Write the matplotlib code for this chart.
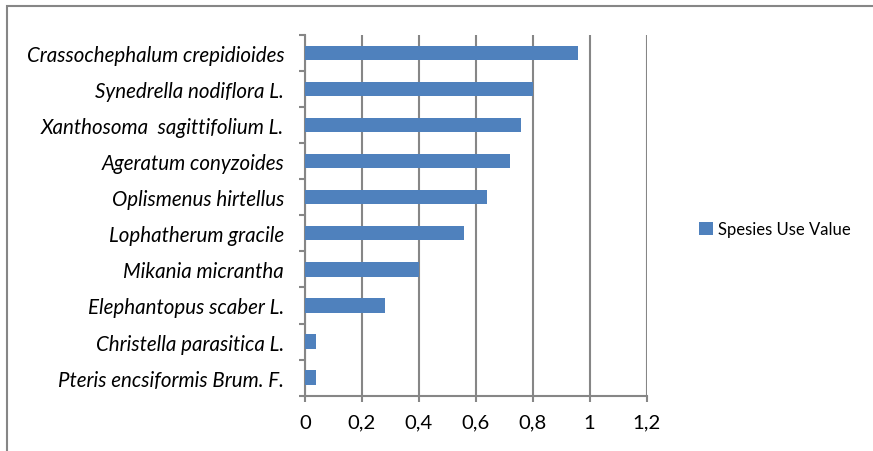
import numpy as np
import matplotlib.pyplot as plt
from matplotlib.patches import Rectangle
from matplotlib.ticker import FixedLocator, FuncFormatter

species = [
    "Pteris encsiformis Brum. F.",
    "Christella parasitica L.",
    "Elephantopus scaber L.",
    "Mikania micrantha",
    "Lophatherum gracile",
    "Oplismenus hirtellus",
    "Ageratum conyzoides",
    "Xanthosoma  sagittifolium L.",
    "Synedrella nodiflora L.",
    "Crassochephalum crepidioides",
]
use_value = [0.04, 0.04, 0.28, 0.40, 0.56, 0.64, 0.72, 0.76, 0.80, 0.96]
x_ticks = [0, 0.2, 0.4, 0.6, 0.8, 1.0, 1.2]

bar_color = "#4F81BD"
line_color = "#868686"

plt.rcParams["font.family"] = ["Lato", "DejaVu Sans"]

fig = plt.figure(figsize=(8.73, 4.52), dpi=100)
ax = fig.add_axes([0.3494, 0.1223, 0.3912, 0.7987])

y = np.arange(len(species))
ax.barh(y, use_value, height=0.4, color=bar_color, label="Spesies Use Value", zorder=3)

ax.set_xlim(0, 1.2)
ax.set_ylim(-0.5, len(species) - 0.5)
ax.set_xticks(x_ticks)
ax.xaxis.set_major_formatter(FuncFormatter(lambda v, p: ("%g" % round(v, 2)).replace(".", ",")))
ax.set_yticks(y)
ax.set_yticklabels(species, fontstyle="italic", fontsize=14.8)
ax.yaxis.set_minor_locator(FixedLocator(np.arange(-0.5, len(species), 1.0)))

ax.grid(axis="x", color=line_color, linewidth=1.5, zorder=0)
for side in ["top", "right"]:
    ax.spines[side].set_visible(False)
for side in ["left", "bottom"]:
    ax.spines[side].set_color(line_color)
    ax.spines[side].set_linewidth(1.5)

ax.tick_params(axis="y", which="major", length=0, pad=15)
ax.tick_params(axis="y", which="minor", length=4, width=1.5, color=line_color)
ax.tick_params(axis="x", length=4, width=1.5, color=line_color, pad=9, labelsize=14.6)

fig.legend(loc="center left", bbox_to_anchor=(0.784, 0.491), frameon=False,
           fontsize=12, handlelength=0.8, handleheight=0.8, handletextpad=0.3)

# outer frame of the chart area
fig.patches.append(Rectangle((6.5 / 873, -0.1), 1.2, 1 - 6.5 / 452 + 0.1,
                             transform=fig.transFigure, fill=False,
                             edgecolor=line_color, linewidth=1.5))

fig.savefig("out.png", dpi=100)
